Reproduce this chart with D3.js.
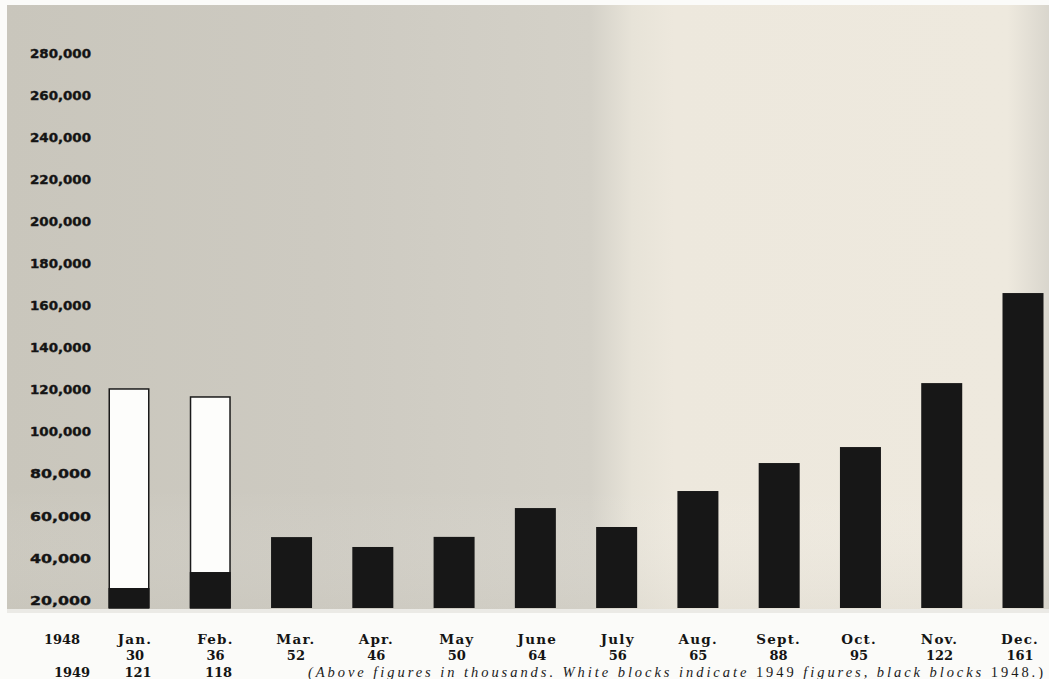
<!DOCTYPE html>
<html><head><meta charset="utf-8">
<script src="https://cdn.jsdelivr.net/npm/d3@7"></script>
<style>body{margin:0;background:#fbfbf9;} svg{display:block;}</style>
</head><body>
<svg id="chart" width="1049" height="679"></svg>
<script>
const months = ["Jan.","Feb.","Mar.","Apr.","May","June","July","Aug.","Sept.","Oct.","Nov.","Dec."];
// bar heights
const values1948 = [25700,33300,49900,45200,50000,63700,54700,71800,85100,92700,123100,165900];
const values1949 = [120300,116500,null,null,null,null,null,null,null,null,null,null];
// printed figures (thousands)
const labels1948 = ["30","36","52","46","50","64","56","65","88","95","122","161"];
const labels1949 = ["121","118"];
const yTicks = [20000,40000,60000,80000,100000,120000,140000,160000,180000,200000,220000,240000,260000,280000];
const noteParts = [["(Above figures in thousands. White blocks indicate ",true],["1949",false],[" figures, black blocks ",true],["1948.)",false]];

const svg = d3.select("#chart");
const W = 1049, H = 679;
const plot = {x0:7, y0:5, x1:1049, y1:609};

// paper background
const defs = svg.append("defs");
const g1 = defs.append("linearGradient").attr("id","paper").attr("x1","0").attr("x2","1").attr("y1","0").attr("y2","0");
[[0,"#c9c6bc"],[0.3,"#cdcac1"],[0.56,"#d4d1c8"],[0.6,"#e7e3d8"],[0.64,"#ede8dd"],[0.96,"#eee9de"],[1,"#d9d6cd"]]
  .forEach(([o,c])=>g1.append("stop").attr("offset",o).attr("stop-color",c));
const g2 = defs.append("linearGradient").attr("id","fade").attr("x1","0").attr("x2","0").attr("y1","0").attr("y2","1");
[[0,"#ffffff",0],[0.8,"#ffffff",0],[1,"#c9c6bd",0.2]]
  .forEach(([o,c,op])=>g2.append("stop").attr("offset",o).attr("stop-color",c).attr("stop-opacity",op));

svg.append("rect").attr("width",W).attr("height",H).attr("fill","#fbfbf9");
svg.append("rect").attr("x",plot.x0).attr("y",plot.y0).attr("width",plot.x1-plot.x0).attr("height",plot.y1-plot.y0).attr("fill","url(#paper)");
svg.append("rect").attr("x",plot.x0).attr("y",plot.y0).attr("width",plot.x1-plot.x0).attr("height",plot.y1-plot.y0).attr("fill","url(#fade)");
svg.append("rect").attr("x",plot.x0).attr("y",plot.y1).attr("width",plot.x1-plot.x0).attr("height",4).attr("fill","#ebeae6");

const y = d3.scaleLinear().domain([20000,280000]).range([600,53]);
const x = d3.scalePoint().domain(months).range([129,1023]);
const xl = d3.scalePoint().domain(months).range([135,1020]);
const bw = 41;

// y axis
const yAxis = d3.axisLeft(y).tickValues(yTicks).tickSize(0).tickPadding(0).tickFormat(d3.format(","));
const ya = svg.append("g").attr("transform","translate(91,0)").call(yAxis);
ya.select(".domain").remove();
ya.selectAll("text").attr("font-family","DejaVu Sans, sans-serif").attr("font-weight","bold")
  .attr("font-size","13px").attr("fill","#141414").attr("stroke","#141414").attr("stroke-width",0.4)
  .attr("textLength",61).attr("lengthAdjust","spacingAndGlyphs");

// 1949 white bars
svg.append("g").selectAll("rect").data(months.map((m,i)=>({m,v:values1949[i]})).filter(d=>d.v!=null))
  .join("rect").attr("x",d=>x(d.m)-bw/2+0.75).attr("width",bw-1.5)
  .attr("y",d=>y(d.v)).attr("height",d=>plot.y1-1-y(d.v))
  .attr("fill","#fdfdfb").attr("stroke","#1a1a1a").attr("stroke-width",1.5);

// 1948 black bars
svg.append("g").selectAll("rect").data(months.map((m,i)=>({m,v:values1948[i]})))
  .join("rect").attr("x",d=>x(d.m)-bw/2).attr("width",bw)
  .attr("y",d=>y(d.v)).attr("height",d=>plot.y1-1-y(d.v))
  .attr("fill","#171717");

// bottom labels
const serif = "DejaVu Serif, Liberation Serif, serif";
const lab = svg.append("g").attr("font-family",serif).attr("font-weight","bold").attr("fill","#141414").attr("text-anchor","middle");
lab.append("text").attr("x",62).attr("y",644).attr("font-size","13px").text("1948");
lab.append("text").attr("x",72).attr("y",677).attr("font-size","13px").text("1949");
lab.selectAll(".m").data(months).join("text").attr("class","m")
  .attr("x",d=>xl(d)).attr("y",644).attr("font-size","13.5px").style("letter-spacing","1.2px").text(d=>d);
lab.selectAll(".v").data(months.map((m,i)=>({m,t:labels1948[i]}))).join("text").attr("class","v")
  .attr("x",d=>xl(d.m)).attr("y",660).attr("font-size","13px").text(d=>d.t);
lab.selectAll(".w").data(labels1949.map((t,i)=>({m:months[i],t}))).join("text").attr("class","w")
  .attr("x",d=>xl(d.m)+3).attr("y",677).attr("font-size","13px").text(d=>d.t);

// note
const note = svg.append("text").attr("x",308).attr("y",677).attr("font-family","Liberation Serif, serif")
  .attr("font-size","14.5px").attr("fill","#1a1a1a").attr("textLength",735).attr("lengthAdjust","spacing");
noteParts.forEach(([t,it])=>note.append("tspan").attr("font-style",it?"italic":"normal").text(t));
</script>
</body></html>
